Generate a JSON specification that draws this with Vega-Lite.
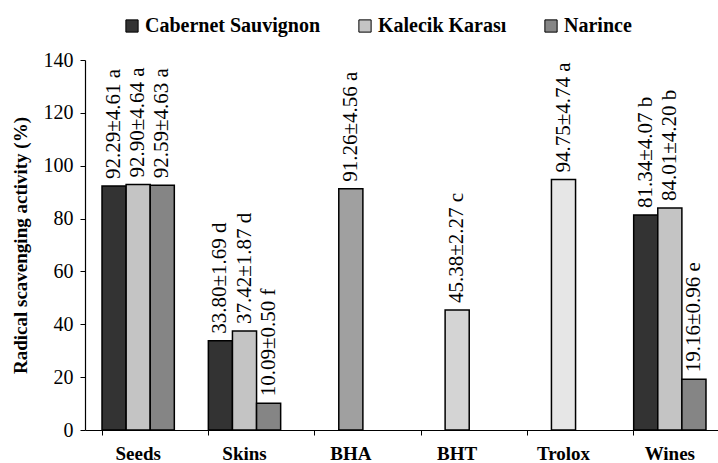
{
  "$schema": "https://vega.github.io/schema/vega-lite/v6.json",
  "width": 638,
  "height": 370,
  "autosize": {"type": "none"},
  "padding": {"left": 85, "top": 60, "right": 0, "bottom": 33},
  "background": "white",
  "config": {
    "view": {"stroke": null},
    "font": "Liberation Serif",
    "axis": {"domainColor": "black", "tickColor": "black", "labelColor": "black", "titleColor": "black", "grid": false}
  },
  "data": {
    "values": [
      {"cat": "Seeds", "series": "Cabernet Sauvignon", "pos": "1", "value": 92.29, "label": "92.29±4.61 a"},
      {"cat": "Seeds", "series": "Kalecik Karası", "pos": "2", "value": 92.90, "label": "92.90±4.64 a"},
      {"cat": "Seeds", "series": "Narince", "pos": "3", "value": 92.59, "label": "92.59±4.63 a"},
      {"cat": "Skins", "series": "Cabernet Sauvignon", "pos": "1", "value": 33.80, "label": "33.80±1.69 d"},
      {"cat": "Skins", "series": "Kalecik Karası", "pos": "2", "value": 37.42, "label": "37.42±1.87 d"},
      {"cat": "Skins", "series": "Narince", "pos": "3", "value": 10.09, "label": "10.09±0.50 f"},
      {"cat": "BHA", "series": "BHA", "pos": "2", "value": 91.26, "label": "91.26±4.56 a"},
      {"cat": "BHT", "series": "BHT", "pos": "2", "value": 45.38, "label": "45.38±2.27 c"},
      {"cat": "Trolox", "series": "Trolox", "pos": "2", "value": 94.75, "label": "94.75±4.74 a"},
      {"cat": "Wines", "series": "Cabernet Sauvignon", "pos": "1", "value": 81.34, "label": "81.34±4.07 b"},
      {"cat": "Wines", "series": "Kalecik Karası", "pos": "2", "value": 84.01, "label": "84.01±4.20 b"},
      {"cat": "Wines", "series": "Narince", "pos": "3", "value": 19.16, "label": "19.16±0.96 e"}
    ]
  },
  "encoding": {
    "x": {
      "field": "cat", "type": "nominal",
      "sort": ["Seeds", "Skins", "BHA", "BHT", "Trolox", "Wines"],
      "scale": {"paddingInner": 0.32, "paddingOuter": 0.16},
      "axis": {"title": null, "labelAngle": 0, "labelFont": "Liberation Serif", "labelFontSize": 19, "labelFontWeight": "bold", "labelPadding": 9, "tickSize": 5, "bandPosition": 0, "domainWidth": 1.2}
    },
    "xOffset": {"field": "pos", "type": "nominal", "scale": {"domain": ["1", "2", "3"], "paddingInner": 0, "paddingOuter": 0}},
    "y": {
      "field": "value", "type": "quantitative",
      "scale": {"domain": [0, 140], "nice": false},
      "axis": {"title": "Radical scavenging activity (%)", "values": [0, 20, 40, 60, 80, 100, 120, 140], "labelFont": "Liberation Serif", "titleFont": "Liberation Serif", "labelFontSize": 20, "titleFontSize": 19, "titleFontWeight": "bold", "titlePadding": 13, "tickSize": 5, "labelPadding": 7, "domainWidth": 1.2}
    }
  },
  "layer": [
    {
      "mark": {"type": "bar", "stroke": "black", "strokeWidth": 1.5},
      "encoding": {
        "fill": {
          "field": "series", "type": "nominal",
          "scale": {"domain": ["Cabernet Sauvignon", "Kalecik Karası", "Narince", "BHA", "BHT", "Trolox"], "range": ["#333333", "#c4c4c4", "#858585", "#a0a0a0", "#d4d4d4", "#e6e6e6"]},
          "legend": {
            "title": null, "values": ["Cabernet Sauvignon", "Kalecik Karası", "Narince"],
            "orient": "none", "legendX": 37, "legendY": -44, "direction": "horizontal",
            "symbolType": "square", "symbolSize": 150, "symbolStrokeColor": "black", "symbolStrokeWidth": 1,
            "labelFont": "Liberation Serif", "labelFontSize": 20, "labelFontWeight": "bold", "labelColor": "black", "labelLimit": 400, "columnPadding": 34, "labelOffset": 3
          }
        }
      }
    },
    {
      "mark": {"type": "text", "angle": 270, "align": "left", "baseline": "middle", "dx": 7, "fontSize": 21, "font": "Liberation Serif", "color": "black"},
      "encoding": {"text": {"field": "label"}}
    }
  ]
}
